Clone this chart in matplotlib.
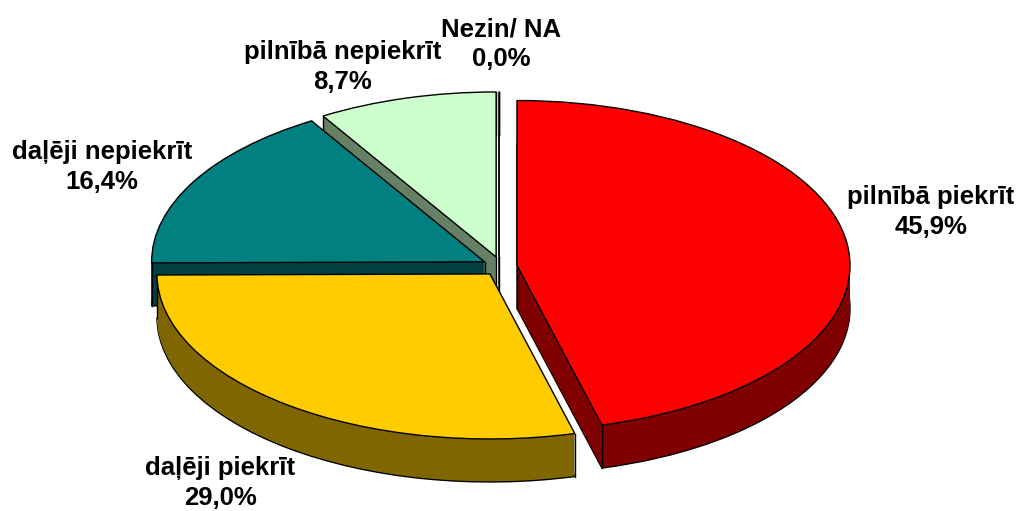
import numpy as np
import matplotlib
matplotlib.use('Agg')
import matplotlib.pyplot as plt

plt.rcParams['font.family'] = ['Liberation Sans', 'DejaVu Sans']

labels = ['pilnībā piekrīt', 'daļēji piekrīt', 'daļēji nepiekrīt', 'pilnībā nepiekrīt', 'Nezin/ NA']
values = [45.9, 29.0, 16.4, 8.7, 0.0]
explode = [0.047, 0.057, 0.058, 0.060, 0.06]
top_colors = ['#FF0000', '#FFCC00', '#008080', '#CCFFCC', '#CCFFCC']
wall_colors = ['#800000', '#806600', '#004040', '#668066', '#668066']
# draw order, back to front
draw_rank = [4, 3, 2, 1, 0]
label_pos = [(931, 212), (220, 483), (102, 167), (343, 67), (501, 44)]

W, H = 1020, 511
CX, CY = 501.5, 266.5   # pie centre in pixels
RX, RY = 333, 165       # radii in pixels
DEPTH = 43              # pixels
NEZIN_DX = -2.5 / RX


def draw_layer(offset, colors, rank_z, edge, lw):
    wedges, _ = ax.pie(values, explode=explode, startangle=90, counterclock=False,
                       colors=colors, center=(0, offset), radius=1, frame=True,
                       wedgeprops=dict(edgecolor=edge, linewidth=lw))
    wedges[4].set_center((wedges[4].center[0] + NEZIN_DX, wedges[4].center[1]))
    for i, w in enumerate(wedges):
        w.set_zorder(draw_rank[i] * 10 + rank_z)
    return wedges


fig = plt.figure(figsize=(W / 100, H / 100), dpi=100)
ax = fig.add_axes([0, 0, 1, 1])

depth_units = DEPTH / RY
# side wall: stack of dark pies, one per pixel of depth
draw_layer(-depth_units, wall_colors, 1, 'black', 1.0)
for d in range(DEPTH - 1, 0, -1):
    draw_layer(-d / RY, wall_colors, 2, 'none', 0)
top = draw_layer(0, top_colors, 5, 'black', 1.0)

# vertical edges on the wall corners
for i, w in enumerate(top):
    cx, cy = w.center
    ax.plot([cx, cx], [cy, cy - depth_units], color='black', lw=1.0, zorder=draw_rank[i] * 10 + 3)
    for th in (w.theta1, w.theta2):
        px = cx + np.cos(np.radians(th))
        py = cy + np.sin(np.radians(th))
        ax.plot([px, px], [py, py - depth_units], color='black', lw=1.0,
                zorder=draw_rank[i] * 10 + 3)

ax.set_aspect('auto')
ax.set_xlim(-CX / RX, (W - CX) / RX)
ax.set_ylim((CY - H) / RY, CY / RY)
ax.axis('off')

for name, val, (px, py) in zip(labels, values, label_pos):
    txt = name + '\n' + f'{val:.1f}'.replace('.', ',') + '%'
    ax.text((px - CX) / RX, (CY - py) / RY, txt, ha='center', va='center', fontsize=18.5,
            fontweight='bold', linespacing=1.3, color='black', zorder=100)

fig.savefig('out.png', dpi=100)
